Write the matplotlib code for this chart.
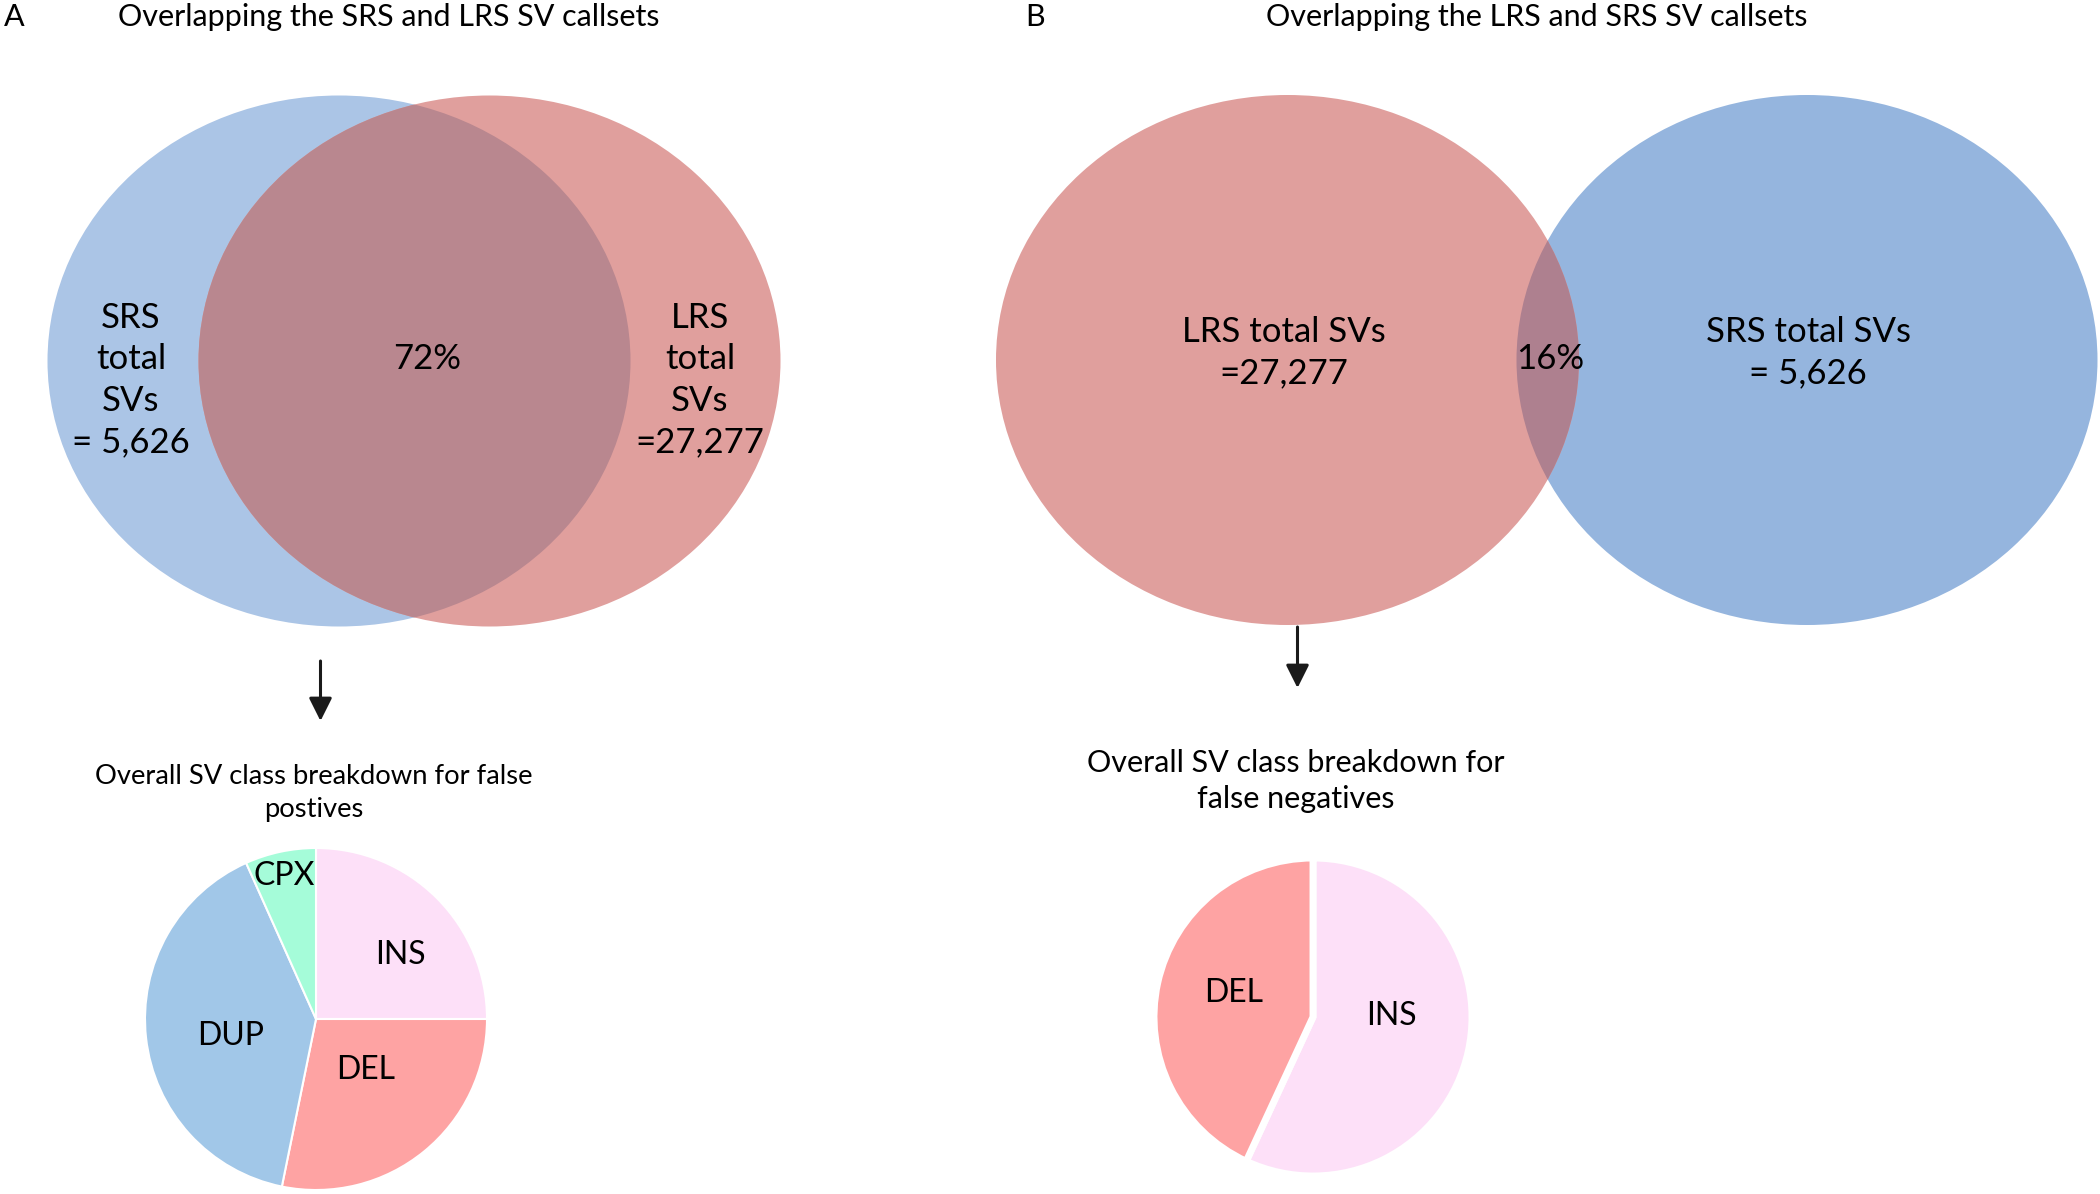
import matplotlib.pyplot as plt
from matplotlib.patches import Ellipse

plt.rcParams['font.family'] = ['Lato', 'DejaVu Sans']

# callset sizes and overlaps
srs_total = 5626
lrs_total = 27277
overlap_srs_in_lrs = 72   # % of SRS calls also in LRS (panel A)
overlap_lrs_in_srs = 16   # % of LRS calls also in SRS (panel B)

# SV class breakdown of false positives (panel A), percent
fp_classes = ["INS", "DEL", "DUP", "CPX"]
fp_share = [25.0, 28.2, 40.1, 6.7]
fp_colors = ["#fde0f8", "#fea3a3", "#a1c7e8", "#a5fcd9"]

# SV class breakdown of false negatives (panel B), percent
fn_classes = ["INS", "DEL"]
fn_share = [56.9, 43.1]
fn_colors = ["#fde0f8", "#fea3a3"]

W, H = 2100, 1194


def Y(y):
    # layout measured from the top of the page
    return H - y


def venn(ax, left, right, col_left, col_right, col_mid):
    # left / right: (cx, cy, w, h); right ellipse is drawn on top
    e1 = Ellipse((left[0], Y(left[1])), left[2], left[3], fc=col_left, ec="none")
    e2 = Ellipse((right[0], Y(right[1])), right[2], right[3], fc=col_right, ec="none")
    ax.add_patch(e1)
    ax.add_patch(e2)
    e3 = Ellipse((right[0], Y(right[1])), right[2], right[3], fc=col_mid, ec="none")
    ax.add_patch(e3)
    e3.set_clip_path(e1)


def fmt(n):
    return "{:,}".format(n)


fig = plt.figure(figsize=(W / 100, H / 100), dpi=100)
ax = fig.add_axes([0, 0, 1, 1])

# ---- panel A ----
venn(ax, (339, 361, 583, 531), (489.5, 361, 582, 531),
     "#abc5e6", "#e09f9d", "#b9878f")
ax.text(4, Y(17), "A", fontsize=22, ha="left", va="center")
ax.text(389, Y(17), "Overlapping the SRS and LRS SV callsets", fontsize=22,
        ha="center", va="center")
ax.text(131, Y(380), "SRS\ntotal\nSVs\n= " + fmt(srs_total), fontsize=25,
        ha="center", va="center", linespacing=1.36)
ax.text(427, Y(359), "%d%%" % overlap_srs_in_lrs, fontsize=25, ha="center", va="center")
ax.text(700, Y(380), "LRS\ntotal\nSVs\n=" + fmt(lrs_total), fontsize=25,
        ha="center", va="center", linespacing=1.36)
ax.annotate("", xy=(320.5, Y(721)), xytext=(320.5, Y(661)),
            arrowprops=dict(arrowstyle="-|>,head_length=0.7,head_width=0.35",
                            color="#1a1a1a", lw=2.2, shrinkA=0, shrinkB=0,
                            mutation_scale=20))
ax.text(314, Y(793), "Overall SV class breakdown for false\npostives",
        fontsize=19.7, ha="center", va="center", linespacing=1.4)

ax.pie(fp_share, colors=fp_colors, startangle=90, counterclock=False,
       center=(316, Y(1019)), radius=171,
       wedgeprops=dict(edgecolor="white", linewidth=1.5))
fp_label_pos = [(400, 955), (366, 1070), (231, 1036), (284.5, 876)]
for name, (x, y) in zip(fp_classes, fp_label_pos):
    ax.text(x, Y(y), name, fontsize=23, ha="center", va="center")

# ---- panel B ----
venn(ax, (1807, 360, 581, 530), (1287.5, 360, 583, 530),
     "#95b5de", "#e09f9d", "#ae808f")
ax.text(1025, Y(17), "B", fontsize=22, ha="left", va="center")
ax.text(1537, Y(17), "Overlapping the LRS and SRS SV callsets", fontsize=22,
        ha="center", va="center")
ax.text(1284, Y(353), "LRS total SVs\n=" + fmt(lrs_total), fontsize=25,
        ha="center", va="center", linespacing=1.36)
ax.text(1550, Y(359), "%d%%" % overlap_lrs_in_srs, fontsize=25, ha="center", va="center")
ax.text(1808, Y(353), "SRS total SVs\n= " + fmt(srs_total), fontsize=25,
        ha="center", va="center", linespacing=1.36)
ax.annotate("", xy=(1297.5, Y(688)), xytext=(1297.5, Y(627)),
            arrowprops=dict(arrowstyle="-|>,head_length=0.7,head_width=0.35",
                            color="#1a1a1a", lw=2.2, shrinkA=0, shrinkB=0,
                            mutation_scale=20))
ax.text(1296, Y(781), "Overall SV class breakdown for\nfalse negatives",
        fontsize=22, ha="center", va="center", linespacing=1.35)

ax.pie(fn_share, colors=fn_colors, startangle=90, counterclock=False,
       center=(1313, Y(1017)), radius=159,
       wedgeprops=dict(edgecolor="white", linewidth=5))
fn_label_pos = [(1391, 1016), (1234, 993)]
for name, (x, y) in zip(fn_classes, fn_label_pos):
    ax.text(x, Y(y), name, fontsize=23, ha="center", va="center")

ax.set_xlim(0, W)
ax.set_ylim(0, H)
ax.set_aspect("equal")
ax.axis("off")

fig.savefig("out.png", dpi=100, facecolor="white")
